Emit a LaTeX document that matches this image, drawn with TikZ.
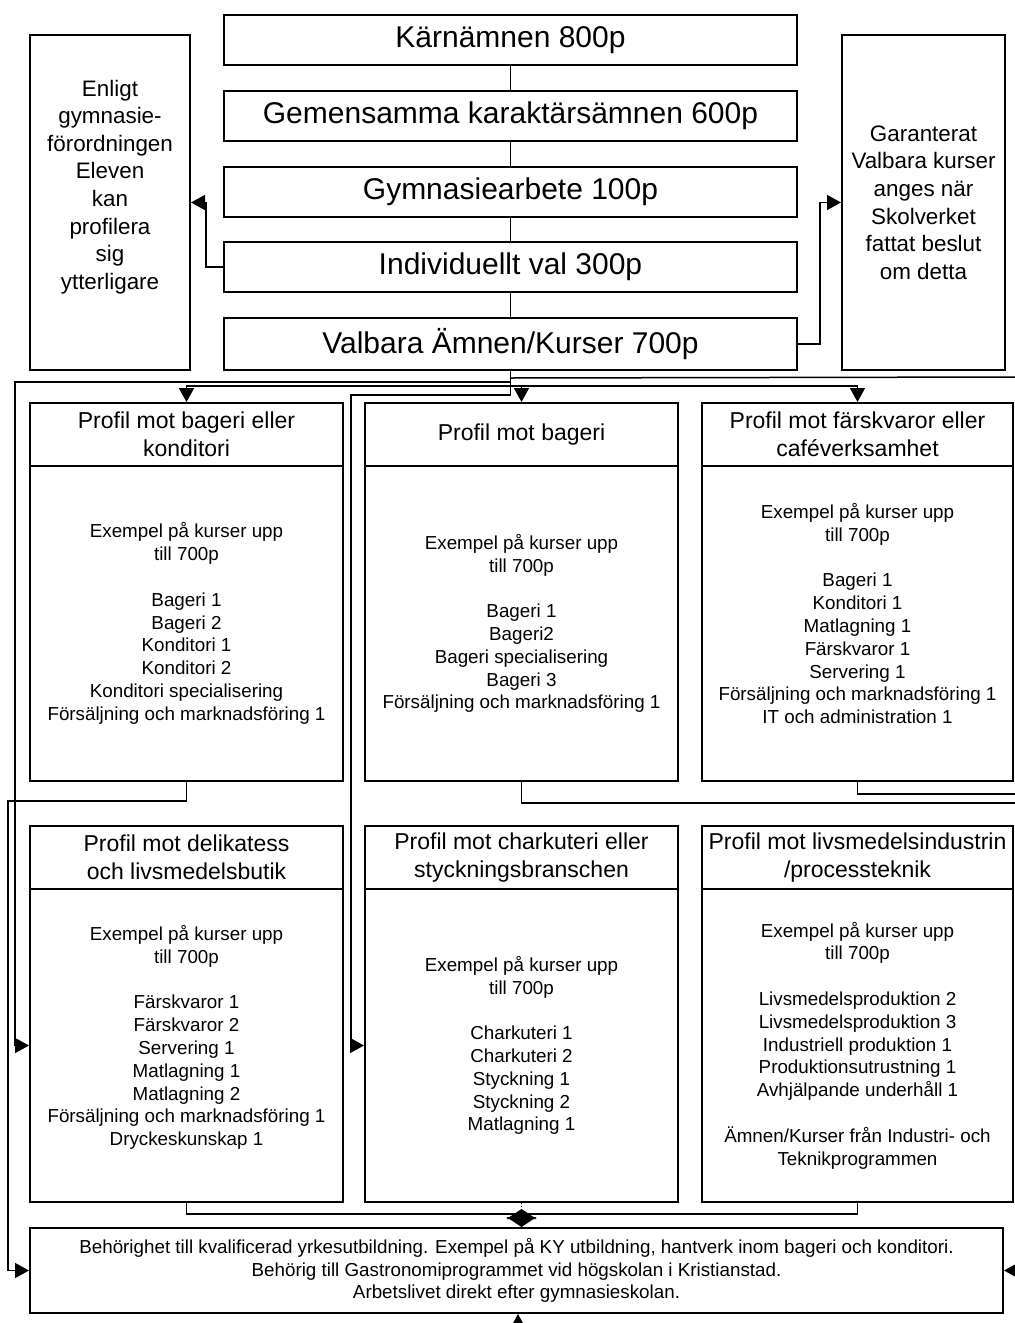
\documentclass[tikz,border=0pt]{standalone}
\usepackage{fontspec}
\setmainfont{Liberation Sans}
\usetikzlibrary{arrows.meta,calc}

\begin{document}
\begin{tikzpicture}[x=0.5pt,y=-0.5pt,
        box/.style={draw,line width=1pt,rectangle,inner sep=2pt,align=center},
        hdr/.style={box,minimum width=156.5pt,minimum height=31.5pt,font=\fontsize{11.5}{14}\selectfont},
        body/.style={box,minimum width=156.5pt,font=\fontsize{9.4}{11.4}\selectfont},
        note/.style={box,minimum height=167.5pt,font=\fontsize{11.2}{13.8}\selectfont},
        conn/.style={line width=0.75pt},
        arr/.style={-{Triangle[length=7pt,width=7.5pt]}},
        dia/.style={{Triangle[length=5pt,width=15pt]}-{Triangle[length=5pt,width=15pt]}}]
            \useasboundingbox (0,0) rectangle (1015,1323);
            \clip (0,0) rectangle (1015,1323);
            \begin{scope}[every node/.style={box,minimum width=286.5pt,minimum height=25pt,font=\fontsize{15}{18}\selectfont}]
                \node (T1) at (510.5, 40) {Kärnämnen 800p};
                \node (T2) at (510.5, 116) {Gemensamma karaktärsämnen 600p};
                \node (T3) at (510.5, 192) {Gymnasiearbete 100p};
                \node (T4) at (510.5, 267) {Individuellt val 300p};
                \node (T5) at (510.5, 344) [minimum height=26pt] {Valbara Ämnen/Kurser 700p};
            \end{scope}
            \node[note,minimum width=80pt] (L) at (110, 202.5) {Enligt\\gymnasie-\\förordningen\\Eleven\\kan\\profilera\\sig\\ytterligare\\[4.2pt]\mbox{}};
            \node[note,minimum width=81.5pt] (R) at (923.5, 202.5) {Garanterat\\Valbara kurser\\anges när\\Skolverket\\fattat beslut\\om detta};
            % profiler, rad 1
            \node[hdr] (P1t) at (186.5, 434.5) {Profil mot bageri eller\\konditori};
            \node[body,minimum height=157.5pt] (P1) at (186.5, 623.5) {Exempel på kurser upp\\till 700p\\[11.4pt]Bageri 1\\Bageri 2\\Konditori 1\\Konditori 2\\Konditori specialisering\\Försäljning och marknadsföring 1};
            \node[hdr] (P2t) at (521.5, 434.5) {Profil mot bageri};
            \node[body,minimum height=157.5pt] (P2) at (521.5, 623.5) {Exempel på kurser upp\\till 700p\\[11.4pt]Bageri 1\\Bageri2\\Bageri specialisering\\Bageri 3\\Försäljning och marknadsföring 1};
            \node[hdr,minimum width=155.5pt] (P3t) at (857.5, 434.5) {Profil mot färskvaror eller\\caféverksamhet};
            \node[body,minimum width=155.5pt,minimum height=157.5pt] (P3) at (857.5, 623.5) {Exempel på kurser upp\\till 700p\\[11.4pt]Bageri 1\\Konditori 1\\Matlagning 1\\Färskvaror 1\\Servering 1\\Försäljning och marknadsföring 1\\IT och administration 1\\[-1.4pt]\mbox{}};
            % profiler, rad 2
            \node[hdr] (P4t) at (186.5, 857.5) {Profil mot delikatess\\och livsmedelsbutik};
            \node[body,minimum height=156.5pt] (P4) at (186.5, 1045.5) {Exempel på kurser upp\\till 700p\\[11.4pt]Färskvaror 1\\Färskvaror 2\\Servering 1\\Matlagning 1\\Matlagning 2\\Försäljning och marknadsföring 1\\Dryckeskunskap 1\\[-1.4pt]\mbox{}};
            \node[hdr] (P5t) at (521.5, 857.5) {Profil mot charkuteri eller\\styckningsbranschen};
            \node[body,minimum height=156.5pt] (P5) at (521.5, 1045.5) {Exempel på kurser upp\\till 700p\\[11.4pt]Charkuteri 1\\Charkuteri 2\\Styckning 1\\Styckning 2\\Matlagning 1};
            \node[hdr,minimum width=155.5pt] (P6t) at (857.5, 857.5) {Profil mot livsmedelsindustrin\\/processteknik};
            \node[body,minimum width=155.5pt,minimum height=156.5pt] (P6) at (857.5, 1045.5) {Exempel på kurser upp\\till 700p\\[11.4pt]Livsmedelsproduktion 2\\Livsmedelsproduktion 3\\Industriell produktion 1\\Produktionsutrustning 1\\Avhjälpande underhåll 1\\[11.4pt]Ämnen/Kurser från Industri- och\\Teknikprogrammen};
            \node[box,minimum width=486.5pt,minimum height=42.5pt,font=\fontsize{9.4}{11.3}\selectfont] (B) at (516.5, 1270.5) {Behörighet till kvalificerad yrkesutbildning. Exempel på KY utbildning, hantverk inom bageri och konditori.\\Behörig till Gastronomiprogrammet vid högskolan i Kristianstad.\\Arbetslivet direkt efter gymnasieskolan.};
            \coordinate (rr) at (1022, 377);
            \coordinate (bin) at (518, 1345);
            % kopplingar
            \foreach \a/\b in {T1/T2,T2/T3,T3/T4,T4/T5}
                \draw[conn] (\a) -- (\b);
            \draw[conn,arr] (T4.west) -- ++(-17,0) |- (L.east);
            \draw[conn,arr] (T5.east) -- ++(22,0) |- (R.west);
            \draw[conn] (T5.south) -- ++(0,24);
            \draw[conn,arr] (T5.south) ++(0,15) -| (P1t.north);
            \draw[conn,arr] (T5.south) ++(0,15) -| (P2t.north);
            \draw[conn,arr] (T5.south) ++(0,15) -| (P3t.north);
            \draw[conn,arr] (T5.south) ++(0,11) -| ($(P4.west)+(-14,0)$) -- (P4.west);
            \draw[conn,arr] (T5.south) ++(0,24) -| ($(P5.west)+(-13,0)$) -- (P5.west);
            \draw[conn,arr] (T5.south) ++(0,7) -- (rr) |- (B.east);
            \draw[conn] (P2.south) -- ++(0,21) -| (rr);
            \draw[conn] (P3.south) -- ++(0,12) -| (rr);
            \draw[conn,arr] (P1.south) -- ++(0,19) -| ($(B.west)+(-21,0)$) -- (B.west);
            \draw[conn] (P4.south) -- ++(0,11) -| (P6.south);
            \draw[conn,thin,densely dotted] (P5.south) -- ++(0,6);
            \draw[conn,dia] ($(P5.south)+(0,6)$) -- (P5.south |- B.north);
            \draw[conn,arr] (bin) -- (bin |- B.south);
        \end{tikzpicture}
\end{document}
